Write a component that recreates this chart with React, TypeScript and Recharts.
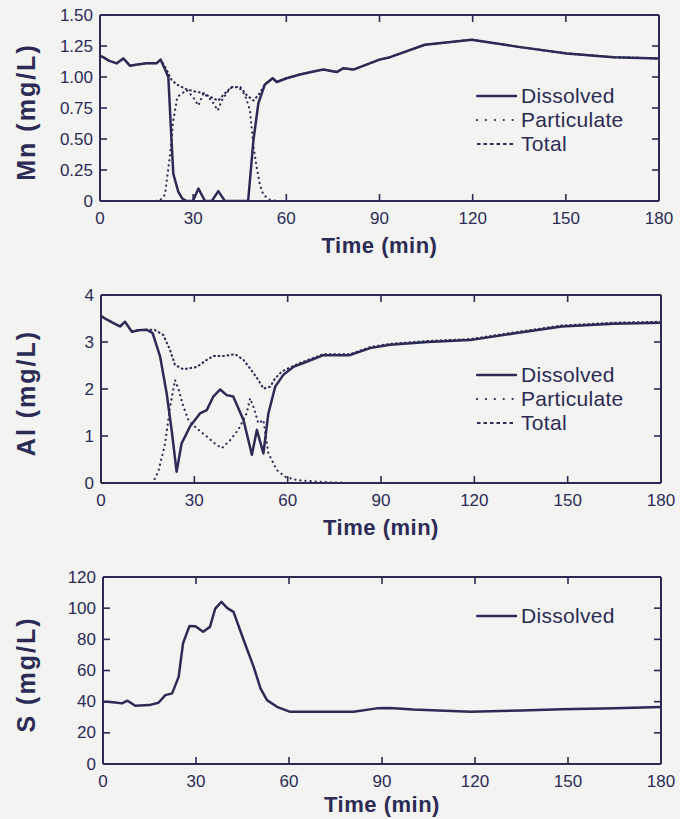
import { LineChart, Line, XAxis, YAxis, Legend } from 'recharts';

const INK = '#2b2b55';
const BG = '#f3f3f1';
const FONT = '"Liberation Sans", Arial, Helvetica, sans-serif';

const TIME_TICKS = [0, 30, 60, 90, 120, 150, 180];
const MN_TICKS = [0, 0.25, 0.5, 0.75, 1, 1.25, 1.5];
const AL_TICKS = [0, 1, 2, 3, 4];
const S_TICKS = [0, 20, 40, 60, 80, 100, 120];

type Pt = { t: number; v: number };
const pts = (rows: number[][]): Pt[] => rows.map(([t, v]) => ({ t, v }));

// Mn (mg/L)
const MN_DISSOLVED = pts([
  [0, 1.17], [1, 1.16], [3, 1.13], [5.4, 1.11], [7.5, 1.15], [9.7, 1.09], [12, 1.1], [15, 1.11],
  [18.2, 1.11], [19.5, 1.14], [20.6, 1.08], [22, 1.0], [22.8, 0.6], [23.6, 0.22], [25.2, 0.075],
  [26.5, 0.02], [27.9, 0], [29.9, 0], [31.7, 0.1], [33.8, 0], [36, 0], [38.1, 0.08], [40.2, 0],
  [47.7, 0], [49.4, 0.49], [51, 0.79], [53.1, 0.94], [55.6, 0.99], [56.9, 0.96], [60.1, 0.99],
  [64.4, 1.02], [68, 1.04], [71.9, 1.06], [76.2, 1.04], [78.3, 1.07], [81.6, 1.06], [90, 1.14],
  [93.4, 1.16], [104.6, 1.26], [119.7, 1.3], [134.2, 1.245], [150.3, 1.19], [165.3, 1.16], [180, 1.15],
]);
const MN_PARTICULATE = pts([
  [0, 0], [18, 0], [19.5, 0.01], [20.9, 0.05], [22.5, 0.36], [23.6, 0.65], [24.9, 0.84], [27.9, 0.895],
  [29.9, 0.84], [31.7, 0.77], [33.3, 0.87], [36, 0.81], [37.9, 0.73], [39.2, 0.81], [41.9, 0.91],
  [44.6, 0.92], [46.7, 0.855], [48.3, 0.73], [49.4, 0.44], [50.4, 0.28], [51.5, 0.13], [52.6, 0.05],
  [54.7, 0.01], [57, 0], [180, 0],
]);
const MN_TOTAL = pts([
  [0, 1.17], [1, 1.16], [3, 1.13], [5.4, 1.11], [7.5, 1.15], [9.7, 1.09], [12, 1.1], [15, 1.11],
  [18.2, 1.11], [19.5, 1.14], [21, 1.08], [23.1, 0.975], [24.7, 0.94], [27.9, 0.9], [31.1, 0.88],
  [33.3, 0.87], [35.4, 0.84], [38.1, 0.81], [39.7, 0.855], [42.4, 0.92], [45.1, 0.92], [47.2, 0.855],
  [49.4, 0.81], [51.5, 0.87], [53.1, 0.94], [55.6, 0.99], [56.9, 0.96], [60.1, 0.99], [64.4, 1.02],
  [68, 1.04], [71.9, 1.06], [76.2, 1.04], [78.3, 1.07], [81.6, 1.06], [90, 1.14], [93.4, 1.16],
  [104.6, 1.26], [119.7, 1.3], [134.2, 1.245], [150.3, 1.19], [165.3, 1.16], [180, 1.15],
]);

// Al (mg/L)
const AL_DISSOLVED = pts([
  [0, 3.55], [1.3, 3.5], [4, 3.4], [6.1, 3.33], [7.7, 3.43], [9.9, 3.22], [12, 3.25], [14.7, 3.26],
  [16.6, 3.19], [19, 2.69], [21.1, 1.91], [22.7, 1.13], [24.3, 0.24], [25.9, 0.84], [28.6, 1.2],
  [31.8, 1.48], [34, 1.55], [36.1, 1.84], [38.3, 1.99], [40.4, 1.87], [42.5, 1.84], [45.8, 1.34],
  [48.5, 0.6], [50.1, 1.13], [52.2, 0.63], [53.8, 1.48], [56, 2.05], [58.6, 2.3], [61.8, 2.47],
  [66.1, 2.58], [71.5, 2.72], [80, 2.72], [86.5, 2.87], [92.9, 2.94], [105, 3.0], [118.6, 3.04],
  [132.6, 3.18], [148.1, 3.33], [164.8, 3.39], [180, 3.41],
]);
const AL_PARTICULATE = pts([
  [0, 0], [16.6, 0], [18.4, 0.24], [20.6, 0.84], [22.2, 1.62], [23.8, 2.19], [25, 1.98], [26.5, 1.62],
  [28.1, 1.34], [30.8, 1.16], [34, 0.99], [36.6, 0.84], [38.8, 0.74], [41.5, 0.91], [44.1, 1.13],
  [46.8, 1.48], [47.9, 1.8], [49, 1.62], [50.6, 1.27], [52.2, 1.34], [53.8, 0.63], [56.5, 0.28],
  [59.2, 0.13], [63, 0.06], [71.5, 0.02], [80, 0], [180, 0],
]);
const AL_TOTAL = pts([
  [0, 3.55], [1.3, 3.5], [4, 3.4], [6.1, 3.33], [7.7, 3.43], [9.9, 3.22], [12, 3.25], [14.7, 3.26],
  [17.2, 3.26], [20, 3.15], [22.2, 2.83], [23.8, 2.51], [26.5, 2.42], [30.8, 2.47], [34, 2.62],
  [36.1, 2.7], [39.3, 2.7], [43.1, 2.74], [45.8, 2.62], [47.9, 2.44], [50.6, 2.19], [52.2, 2.01],
  [54.4, 2.05], [56, 2.23], [58.1, 2.37], [60.8, 2.46], [65, 2.58], [71.5, 2.74], [80, 2.74],
  [86.5, 2.89], [92.9, 2.96], [105, 3.02], [118.6, 3.06], [132.6, 3.2], [148.1, 3.35], [164.8, 3.41],
  [180, 3.43],
]);

// S (mg/L)
const S_DISSOLVED = pts([
  [0, 40], [1.3, 39.9], [4, 39.5], [6.1, 38.9], [7.9, 40.6], [10.4, 37.4], [14.9, 37.8], [17.9, 39.3],
  [20.1, 44.2], [22.3, 45.3], [24.4, 55.9], [25.8, 77.3], [27.9, 88.6], [29.8, 88.4], [32.3, 84.8],
  [34.5, 88], [36.2, 99.7], [38.2, 104], [40.1, 100], [42.1, 97.6], [45.4, 79.4], [48.6, 62.3],
  [50.8, 48.5], [52.9, 41], [56.1, 36.7], [60.4, 33.5], [71.2, 33.5], [80.8, 33.5], [88.3, 35.7],
  [92.6, 36], [100, 35], [118.6, 33.6], [135, 34.3], [148, 35.2], [165, 35.8], [180, 36.5],
]);

const STYLES: Record<string, { width: number; dash?: string; legendDash?: string; cap: 'round' | 'butt' }> = {
  Dissolved: { width: 2.5, cap: 'round' },
  Particulate: { width: 2.2, dash: '0.1 5', legendDash: '0.1 8.8', cap: 'round' },
  Total: { width: 2, dash: '2.5 2', legendDash: '3.5 3', cap: 'butt' },
};

type Series = { name: string; data: Pt[] };
type Plot = { l: number; r: number; t: number; b: number };

const renderLegend = (props: any) => (
  <div style={{ fontFamily: FONT, fontSize: 21, color: INK }}>
    {(props.payload ?? []).map((e: any) => {
      const st = STYLES[e.value];
      return (
        <div key={e.value} style={{ display: 'flex', alignItems: 'center', height: 24 }}>
          <svg width={45} height={10} style={{ flex: 'none' }}>
            <line x1={1} x2={40} y1={5} y2={5} stroke={INK} strokeWidth={st.width}
              strokeDasharray={st.legendDash} strokeLinecap={st.cap} />
          </svg>
          <span style={{ lineHeight: '24px', letterSpacing: 0.3, whiteSpace: 'nowrap' }}>{e.value}</span>
        </div>
      );
    })}
  </div>
);

function Panel({ top, height, plot, yDomain, yTicks, yFmt, yLabel, series, legendTop, timeDy }: {
  top: number; height: number; plot: Plot; yDomain: [number, number]; yTicks: number[];
  yFmt: (v: number) => string; yLabel: string; series: Series[]; legendTop: number; timeDy: number;
}) {
  const pt = plot.t - top;
  const pb = plot.b - top;
  const xAxisH = 60;
  // top x axis is 1px high, right y axis 1px wide (zero-size axes are not drawn)
  const margin = { top: pt - 1, right: 680 - plot.r - 1, left: 0, bottom: height - pb - xAxisH };
  const axisLine = { stroke: INK, strokeWidth: 2 };
  const tickLine = { stroke: INK, strokeWidth: 1.6 };
  const txt = { fontFamily: FONT, fill: INK };

  const bottomTick = (p: any) => (
    <text x={p.x} y={p.y + 17} textAnchor="middle" dominantBaseline="central" fontSize={17} {...txt}>
      {p.payload.value}
    </text>
  );
  const leftTick = (p: any) => (
    <text x={p.x - 7} y={p.y} textAnchor="end" dominantBaseline="central" fontSize={17} {...txt}>
      {yFmt(p.payload.value)}
    </text>
  );
  const noLabel = () => <g />;
  const timeLabel = () => (
    <text x={(plot.l + plot.r) / 2} y={pb + timeDy} textAnchor="middle"
      fontSize={22} fontWeight="bold" letterSpacing={0.5} {...txt}>
      Time (min)
    </text>
  );
  const cy = (pt + pb) / 2 + 4;
  const yLab = () => (
    <text x={26} y={cy} transform={`rotate(-90 26 ${cy})`} textAnchor="middle" dominantBaseline="central"
      fontSize={25} fontWeight="bold" letterSpacing={2} {...txt}>
      {yLabel}
    </text>
  );

  return (
    <div style={{ position: 'absolute', left: 0, top }}>
      <LineChart width={680} height={height} margin={margin}>
        <XAxis xAxisId="b" type="number" dataKey="t" domain={[0, 180]} ticks={TIME_TICKS} interval={0}
          height={xAxisH} tickSize={-7} tickMargin={7} tickLine={tickLine} axisLine={axisLine}
          tick={bottomTick} label={timeLabel} allowDataOverflow />
        <XAxis xAxisId="t" orientation="top" type="number" dataKey="t" domain={[0, 180]} ticks={TIME_TICKS}
          interval={0} height={1} tickSize={-7} tickMargin={7} tickLine={tickLine} axisLine={axisLine}
          tick={noLabel} allowDataOverflow />
        <YAxis yAxisId="l" type="number" domain={yDomain} ticks={yTicks} interval={0} width={plot.l}
          tickSize={-7} tickMargin={7} tickLine={tickLine} axisLine={axisLine} tick={leftTick}
          label={yLab} allowDataOverflow />
        <YAxis yAxisId="r" orientation="right" type="number" domain={yDomain} ticks={yTicks} interval={0}
          width={1} tickSize={-7} tickMargin={7} tickLine={tickLine} axisLine={axisLine} tick={noLabel}
          allowDataOverflow />
        <Legend layout="vertical" align="center" verticalAlign="middle" content={renderLegend}
          wrapperStyle={{ left: 476, top: legendTop, right: 'auto', bottom: 'auto', width: 'auto' }} />
        {series.map((s) => {
          const st = STYLES[s.name];
          return (
            <Line key={s.name} xAxisId="b" yAxisId="l" data={s.data} dataKey="v" name={s.name}
              type="linear" stroke={INK} strokeWidth={st.width} strokeDasharray={st.dash}
              strokeLinecap={st.cap} strokeLinejoin="round" dot={false} activeDot={false}
              isAnimationActive={false} />
          );
        })}
      </LineChart>
    </div>
  );
}

const fmtMn = (v: number) => (v === 0 ? '0' : v.toFixed(2));
const fmtInt = (v: number) => String(v);

export default function App() {
  return (
    <div style={{ position: 'absolute', left: 0, top: 0, width: 680, height: 819, background: BG, overflow: 'hidden' }}>
      <Panel top={0} height={270} plot={{ l: 100, r: 659, t: 15, b: 201 }} yDomain={[0, 1.5]} yTicks={MN_TICKS}
        yFmt={fmtMn} yLabel="Mn (mg/L)" legendTop={84} timeDy={52}
        series={[
          { name: 'Dissolved', data: MN_DISSOLVED },
          { name: 'Particulate', data: MN_PARTICULATE },
          { name: 'Total', data: MN_TOTAL },
        ]} />
      <Panel top={270} height={280} plot={{ l: 101, r: 661, t: 295, b: 483 }} yDomain={[0, 4]} yTicks={AL_TICKS}
        yFmt={fmtInt} yLabel="Al (mg/L)" legendTop={93} timeDy={52}
        series={[
          { name: 'Dissolved', data: AL_DISSOLVED },
          { name: 'Particulate', data: AL_PARTICULATE },
          { name: 'Total', data: AL_TOTAL },
        ]} />
      <Panel top={550} height={269} plot={{ l: 103, r: 661, t: 577, b: 764 }} yDomain={[0, 120]} yTicks={S_TICKS}
        yFmt={fmtInt} yLabel="S (mg/L)" legendTop={54} timeDy={48}
        series={[{ name: 'Dissolved', data: S_DISSOLVED }]} />
    </div>
  );
}
